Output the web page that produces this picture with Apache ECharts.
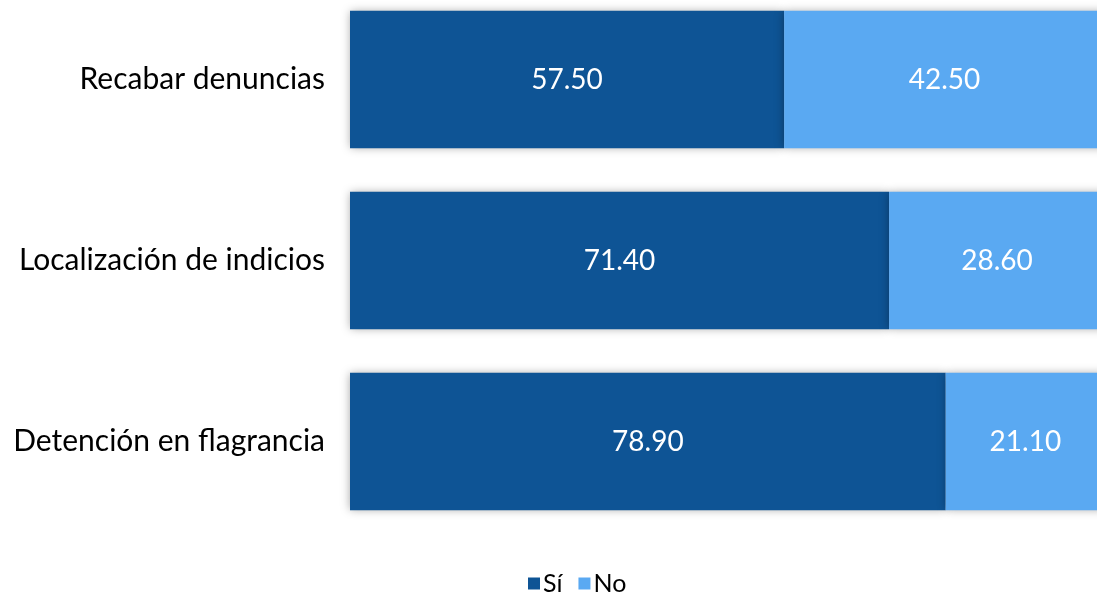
<!DOCTYPE html>
<html><head><meta charset="utf-8">
<script src="https://cdn.jsdelivr.net/npm/echarts@6/dist/echarts.min.js"></script>
<style>html,body{margin:0;padding:0;background:#fff;overflow:hidden}#c{position:absolute;left:0;top:-11px;width:1105px;height:608px}</style>
</head><body><div id="c"></div>
<script>
const categories = ['Detención en flagrancia', 'Localización de indicios', 'Recabar denuncias'];
const si = [78.9, 71.4, 57.5];
const no = [21.1, 28.6, 42.5];
const seriesNames = ['Sí', 'No'];
const chart = echarts.init(document.getElementById('c'));
const font = 'Lato, "Open Sans", sans-serif';
const shadow = {shadowBlur: 9, shadowColor: 'rgba(0,0,0,0.35)', shadowOffsetY: 0};
chart.setOption({
  animation: false,
  textStyle: {fontFamily: font},
  grid: {left: 350, right: 0, top: 0, height: 543},
  legend: {
    top: 577, left: 523, itemWidth: 12, itemHeight: 12, itemGap: 16,
    icon: 'rect',
    textStyle: {fontSize: 25, color: '#000', fontFamily: font, padding: [0,0,0,-2]},
    data: seriesNames
  },
  xAxis: {type: 'value', min: 0, max: 100, show: false},
  yAxis: {
    type: 'category', data: categories,
    axisLine: {show: false},
    axisTick: {show: false},
    axisLabel: {fontSize: 30, color: '#000', margin: 25, fontFamily: font}
  },
  series: [
    {name: seriesNames[0], type: 'bar', stack: 't', data: si, barWidth: '76%',
     itemStyle: Object.assign({color: '#0E5495'}, shadow),
     label: {show: true, position: 'inside', color: '#fff', fontSize: 28, fontFamily: font, formatter: p => p.value.toFixed(2)}},
    {name: seriesNames[1], type: 'bar', stack: 't', data: no, barWidth: '76%',
     itemStyle: Object.assign({color: '#5AA9F2'}, shadow),
     label: {show: true, position: 'inside', color: '#fff', fontSize: 28, fontFamily: font, formatter: p => p.value.toFixed(2)}}
  ]
});
</script></body></html>
